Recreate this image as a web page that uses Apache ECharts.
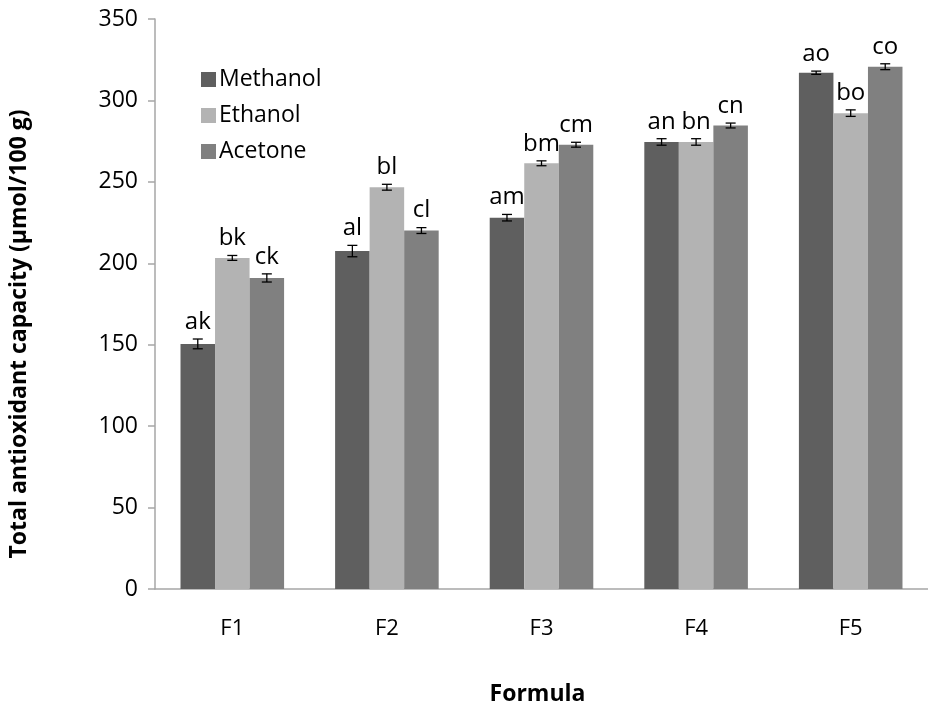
<!DOCTYPE html>
<html><head><meta charset="utf-8">
<script src="https://cdn.jsdelivr.net/npm/echarts@6/dist/echarts.min.js"></script>
<style>html,body{margin:0;padding:0;background:#fff}#c{width:928px;height:711px}</style>
</head><body><div id="c"></div>
<script>
const categories = ['F1','F2','F3','F4','F5'];
const methanol = [150.5, 207.5, 228, 274.5, 317];
const ethanol = [203.3, 246.7, 261.4, 274.5, 292.2];
const acetone = [191, 220.1, 272.8, 284.6, 320.7];
const methanolErr = [3, 3.5, 2, 2, 1];
const ethanolErr = [1.5, 1.8, 1.5, 2, 2];
const acetoneErr = [2.5, 1.8, 1.5, 1.5, 1.8];
const methanolLbl = ['ak','al','am','an','ao'];
const ethanolLbl = ['bk','bl','bm','bn','bo'];
const acetoneLbl = ['ck','cl','cm','cn','co'];
const seriesNames = ['Methanol','Ethanol','Acetone'];
const colors = ['#5f5f5f','#b3b3b3','#808080'];

const FONT = 'Open Sans';
const chart = echarts.init(document.getElementById('c'));

function errSeries(idx, vals, errs, lbls){
  return {
    type:'custom', name: seriesNames[idx] + ' err', z:5, silent:true,
    data: vals.map((v,i)=>[i, v, errs[i], lbls[i]]),
    renderItem:function(params, api){
      const ci = api.value(0), v = api.value(1), e = api.value(2);
      const band = api.size([1,0])[0];
      const barW = band*0.67/3;
      const cx = api.coord([ci, v])[0] + (idx-1)*barW;
      const yHi = api.coord([ci, v+e])[1];
      const yLo = api.coord([ci, v-e])[1];
      const cap = 5;
      const st = {stroke:'#000', lineWidth:1.3};
      return {type:'group', children:[
        {type:'line', shape:{x1:cx,y1:yHi,x2:cx,y2:yLo}, style:st},
        {type:'line', shape:{x1:cx-cap,y1:yHi,x2:cx+cap,y2:yHi}, style:st},
        {type:'line', shape:{x1:cx-cap,y1:yLo,x2:cx+cap,y2:yLo}, style:st},
        {type:'text', style:{text: lbls[ci], x:cx, y:yHi-5, align:'center', verticalAlign:'bottom',
          font:'24px "'+FONT+'"', fill:'#000'}}
      ]};
    }
  };
}

chart.setOption({
  animation:false,
  textStyle:{fontFamily:FONT},
  grid:{left:154, top:19, width:786, height:581, containLabel:false},
  legend:{
    orient:'vertical', left:196, top:63, itemWidth:15, itemHeight:15, itemGap:13,
    icon:'rect', data:seriesNames,
    textStyle:{fontSize:23, lineHeight:20, color:'#000', fontFamily:FONT, padding:[0,0,0,-2]}
  },
  xAxis:{
    type:'category', data:categories,
    axisLine:{lineStyle:{color:'#a6a6a6', width:1.5}},
    axisTick:{show:false},
    axisLabel:{fontSize:22, color:'#000', margin:29},
    name:'Formula', nameLocation:'middle', nameGap:94,
    nameTextStyle:{fontSize:23, fontWeight:'bold', color:'#000', padding:[0,8,0,0]}
  },
  yAxis:{
    type:'value', min:0, max:350, interval:50,
    splitLine:{show:false},
    axisLine:{show:true, lineStyle:{color:'#a6a6a6', width:1.5}},
    axisTick:{show:true, length:7, lineStyle:{color:'#a6a6a6', width:1.5}},
    axisLabel:{fontSize:23, color:'#000', margin:17},
    name:'Total antioxidant capacity (µmol/100 g)', nameLocation:'middle', nameGap:124,
    nameTextStyle:{fontSize:23, fontWeight:'bold', color:'#000', padding:[0,60,0,0]}
  },
  series:[
    {type:'bar', name:'Methanol', data:methanol, itemStyle:{color:colors[0]}, barGap:'0%', barCategoryGap:'33%'},
    {type:'bar', name:'Ethanol', data:ethanol, itemStyle:{color:colors[1]}, barGap:'0%', barCategoryGap:'33%'},
    {type:'bar', name:'Acetone', data:acetone, itemStyle:{color:colors[2]}, barGap:'0%', barCategoryGap:'33%'},
    errSeries(0, methanol, methanolErr, methanolLbl),
    errSeries(1, ethanol, ethanolErr, ethanolLbl),
    errSeries(2, acetone, acetoneErr, acetoneLbl)
  ]
});
</script></body></html>
